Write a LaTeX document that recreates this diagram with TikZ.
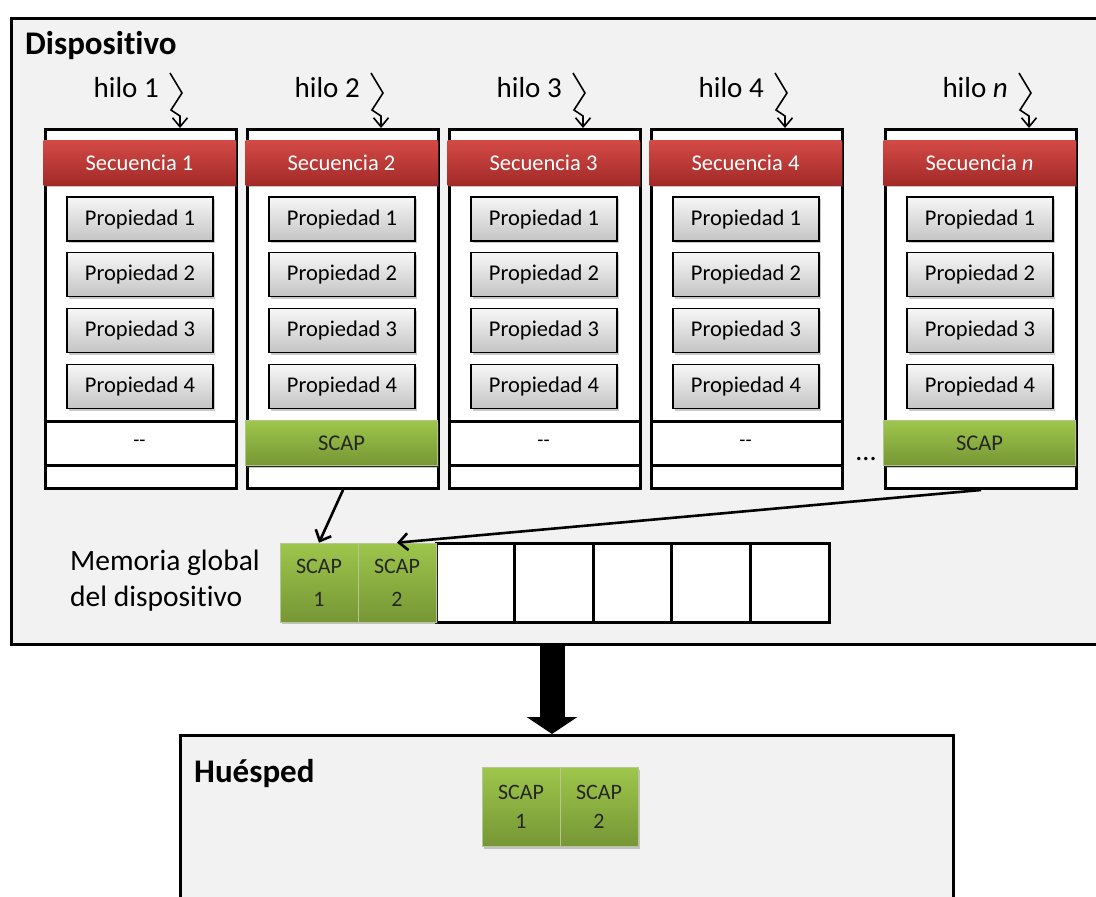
\documentclass[tikz,border=0pt]{standalone}
\usepackage{fontspec}
\setmainfont{Carlito}[Ligatures=NoCommon]
\usetikzlibrary{arrows.meta,shadows,calc}

\definecolor{bggray}{RGB}{242,242,242}
\definecolor{redtop}{RGB}{212,74,70}
\definecolor{redbot}{RGB}{162,42,40}
\definecolor{greentop}{RGB}{158,198,76}
\definecolor{greenbot}{RGB}{118,150,52}
\definecolor{graytop}{RGB}{247,247,247}
\definecolor{graybot}{RGB}{196,196,196}

\tikzset{
  panel/.style={draw=black, line width=3pt, fill=bggray, inner sep=0pt, anchor=north west},
  column/.style={draw=black, line width=3pt, fill=white, minimum width=191pt,
    minimum height=359pt, anchor=north west, inner sep=0pt},
  softshadow/.style={drop shadow={shadow xshift=1.5pt, shadow yshift=-2pt, opacity=0.35, fill=black!60}},
  header/.style={top color=redtop, bottom color=redbot, text=white, minimum width=192pt,
    minimum height=45pt, inner sep=0pt, font=\fontsize{22.5}{26}\selectfont, softshadow},
  prop/.style={draw=black, line width=1.3pt, top color=graytop, bottom color=graybot,
    minimum width=146pt, minimum height=44pt, inner sep=0pt,
    font=\fontsize{22.5}{26}\selectfont, softshadow},
  scapbar/.style={top color=greentop, bottom color=greenbot, draw=greentop!80!black!60,
    line width=0.6pt, minimum width=192pt, minimum height=45pt, inner sep=0pt,
    font=\fontsize{22.5}{26}\selectfont, text=black!85, softshadow},
  cell/.style={draw=black, line width=3pt, fill=white, minimum width=78.6pt,
    minimum height=79pt, inner sep=0pt},
  scapcell/.style={top color=greentop, bottom color=greenbot, draw=greentop!70!black!50,
    line width=0.6pt, minimum width=78pt, minimum height=79pt, inner sep=0pt,
    align=center, font=\fontsize{22}{33}\selectfont, text=black!85, softshadow},
  thread/.style={line width=1.6pt, -{Straight Barb[length=9pt, width=15pt]}},
  link/.style={line width=2.6pt, -{Straight Barb[length=9pt, width=17pt]}},
  bigarrow/.style={line width=25pt, -{Triangle[length=17pt, width=50pt]}},
  title/.style={anchor=west, font=\fontsize{33}{36}\selectfont\bfseries, inner sep=0pt},
  label/.style={font=\fontsize{29}{34}\selectfont, inner sep=0pt}
}

\begin{document}
\begin{tikzpicture}[x=1pt, y=-1pt]
  \useasboundingbox (0,0) rectangle (1096,897);
  \clip (0,0) rectangle (1096,897);

  % device panel
  \node[panel, minimum width=1110pt, minimum height=626pt] (dev) at (10,17) {};
  \node[title] (devtitle) at (25,46) {Dispositivo};

  % one column per thread: left edge / index / label / has SCAP / arrow tip x
  \foreach \x/\i/\n/\s/\tx in {44/1/1/0/180, 246/2/2/1/381, 448/3/3/0/583, 650/4/4/0/785, 884/5/\textit{n}/1/1029}{
    \node[column] (c\i) at (\x,128) {};
    \node[header] (h\i) at (\x+95.5,162.5) {Secuencia \n};
    \foreach \k/\yy in {1/219, 2/274.5, 3/330.5, 4/386.5}{
      \node[prop] (p\i\k) at (\x+96,\yy) {\raisebox{-1.5pt}{Propiedad \k}};
    }
    \draw[line width=3pt] (\x,421) -- (\x+191,421);
    \draw[line width=3pt] (\x,465) -- (\x+191,465);
    \ifnum\s=1
      \node[scapbar] (s\i) at (\x+95.5,443) {SCAP};
    \else
      \node[font=\fontsize{20}{22}\selectfont] (s\i) at (\x+95.5,443) {-{}-};
    \fi
    % thread label and its arrow
    \coordinate (t\i) at (\tx,128);
    \node[label, anchor=east] (hl\i) at (\tx-21,88) {hilo \n};
    \draw[thread] (\tx-10,73) -- ++(12,20) -- ++(-11,17) -- ++(9,6) -- (t\i);
  }
  \node[font=\fontsize{28}{30}\selectfont, inner sep=0pt] (dots) at (866,459) {...};

  % global memory
  \node[label, anchor=west, align=left, font=\fontsize{29.5}{36}\selectfont] (memlabel) at (70,581) {Memoria global\\del dispositivo};
  \foreach \j/\cx in {3/475.3, 4/553.9, 5/632.5, 6/711.1, 7/789.7}{
    \node[cell] (m\j) at (\cx,582.5) {};
  }
  \node[scapcell] (m1) at (319,582.5) {\raisebox{-3pt}{SCAP}\\\raisebox{-3pt}{1}};
  \node[scapcell] (m2) at (397,582.5) {\raisebox{-3pt}{SCAP}\\\raisebox{-3pt}{2}};

  \draw[link] (c2.south) -- (m1.north);
  \draw[link] (c5.south) -- (m2.north);

  % host panel
  \node[panel, minimum width=773pt, minimum height=200pt] (host) at (179,734) {};
  \node[title] (hosttitle) at (194,774) {Huésped};
  \node[scapcell, font=\fontsize{22}{29}\selectfont] (hs1) at (521,807) {SCAP\\1};
  \node[scapcell, font=\fontsize{22}{29}\selectfont] (hs2) at (599,807) {SCAP\\2};

  % transfer from device to host
  \coordinate (bx) at (552,0);
  \draw[bigarrow] (dev.south -| bx) -- (host.north -| bx);
\end{tikzpicture}
\end{document}
